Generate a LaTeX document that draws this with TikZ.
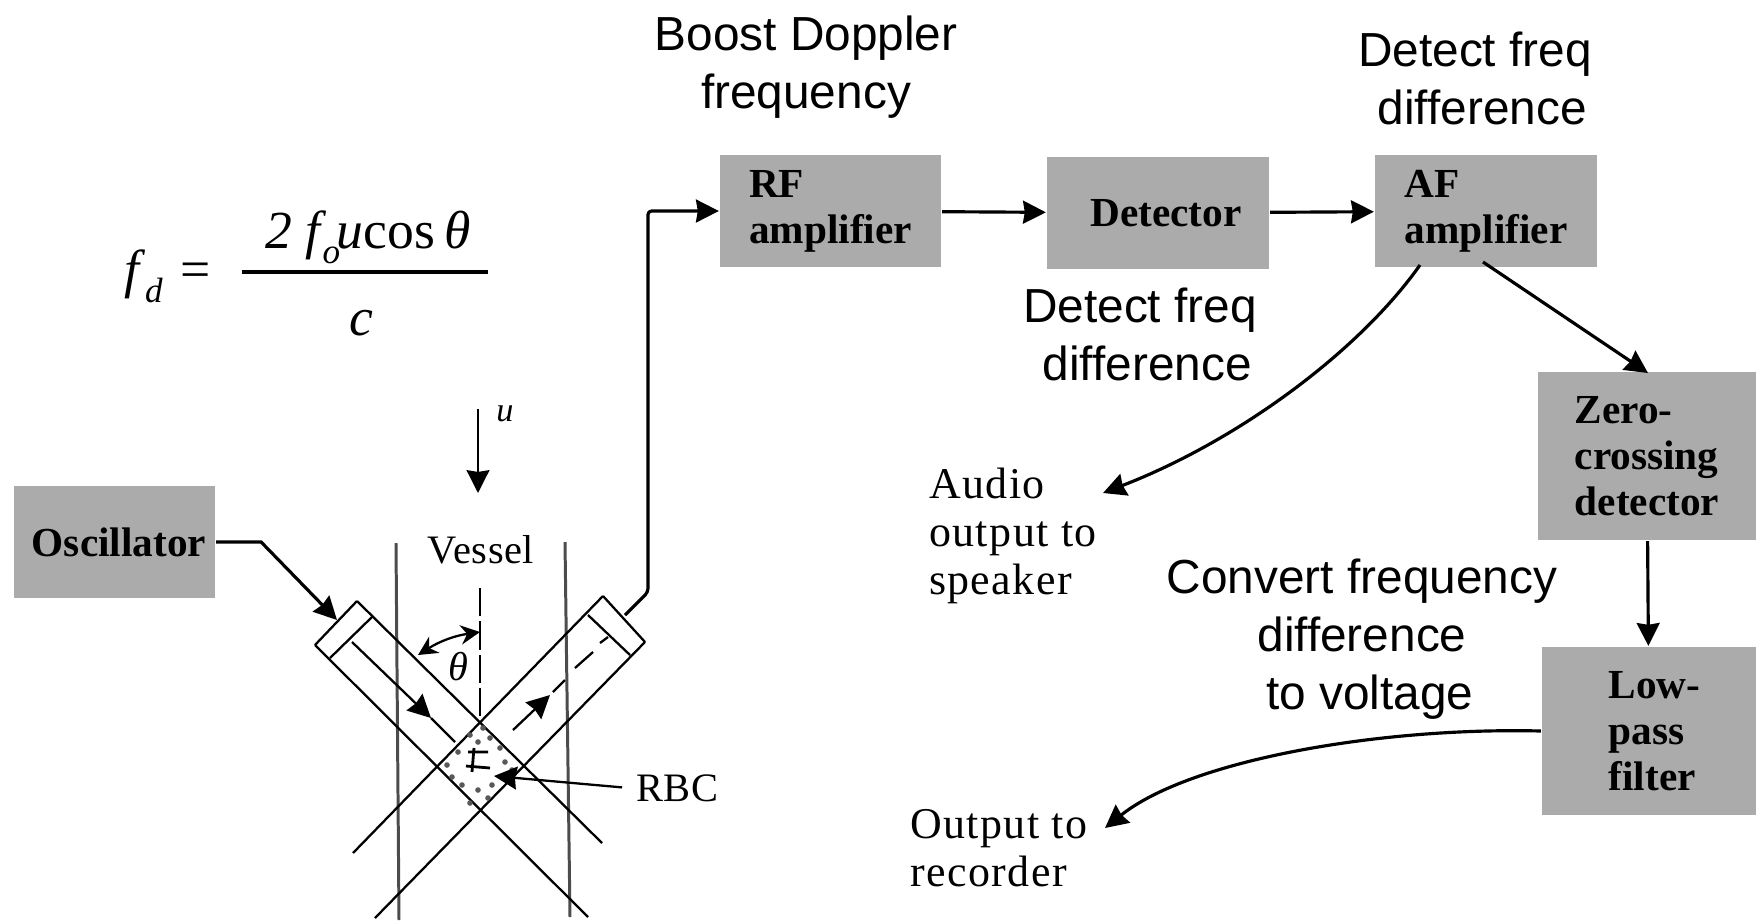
\documentclass[tikz,border=0pt]{standalone}
\usepackage{fontspec}
\setmainfont{Liberation Serif}
\setsansfont{Liberation Sans}
\usetikzlibrary{arrows.meta, positioning, calc}
\definecolor{cbox}{gray}{0.67}
\definecolor{cwall}{gray}{0.3}
\newcommand{\lowsub}[1]{\raisebox{-0.28em}{\fontsize{20}{20}\selectfont\textit{#1}}}
\tikzset{
  every picture/.style={line width=1.3pt},
  box/.style 2 args={fill=cbox, minimum width=#1, minimum height=#2, inner sep=0pt, align=left,
    font=\fontsize{23.5}{26.2}\selectfont\bfseries},
  arrow/.style={-{Stealth[length=13pt, width=13pt, inset=1pt]}, line width=1.8pt},
  note/.style={font=\fontsize{27.2}{33}\selectfont\sffamily, align=center},
  plate/.style={font=\fontsize{25}{27.3}\selectfont\addfontfeature{LetterSpace=3.4}, align=left},
  small/.style={font=\fontsize{23}{25}\selectfont\addfontfeature{LetterSpace=1.5}},
  eqn/.style={font=\fontsize{30.5}{32}\selectfont, inner sep=0pt},
}

\begin{document}
\begin{tikzpicture}[x=0.02cm, y=-0.02cm]
  \useasboundingbox (0,0) rectangle (1756,921);
  % blocks
  \node[box={4.02cm}{2.24cm}] (osc) at (114.5,542) {\hspace*{0.18cm}Oscillator};
  \node[box={4.42cm}{2.24cm}] (rf) at (830.5,211) {RF\\amplifier};
  \node[box={4.44cm}{2.24cm}] (det) at (1158,213) {\hspace*{0.32cm}Detector};
  \node[box={4.44cm}{2.26cm}] (af) at (1486,211) {AF\\amplifier};
  \node[box={4.36cm}{3.36cm}] (zero) at (1647,456) {Zero-\\crossing\\detector};
  \node[box={4.28cm}{3.36cm}] (low) at (1649,731) {\hspace*{0.22cm}Low-\\\hspace*{0.22cm}pass\\\hspace*{0.22cm}filter};
  % added captions
  \node[note] (boost) at (806,67) {Boost Doppler\\frequency};
  \node[note] (freqa) at (1475,78) {Detect freq\\\hspace*{0.29cm}difference};
  \node[note] (freqb) at (1140,334) {Detect freq\\\hspace*{0.29cm}difference};
  \node[note] (conv) at (1362,639) {Convert frequency\\difference\\\hspace*{0.31cm}to voltage};
  \node[plate, anchor=west] (audio) at (922,536) {Audio\\output to\\speaker};
  \node[plate, anchor=west] (rec) at (903,848) {Output to\\recorder};
  % formula
  \node[eqn, anchor=base west] (fd) at (123,287) {\textit{f}\lowsub{d}};
  \node[eqn, anchor=base west] (eq) at (179,287) {=};
  \node[eqn, anchor=base] (num) at (368,248) {\textit{2 f}\kern-0.08em\lowsub{o}\kern-0.06em\textit{u}cos\,\textit{θ}};
  \node[eqn, anchor=base] (den) at (361,335) {\textit{c}};
  \draw[line width=2.7pt] (242,272) coordinate (bara) -- (488,272) coordinate (barb);
  % vessel
  \draw[cwall, line width=1.7pt] (396,543) -- (399,920);
  \draw[cwall, line width=1.7pt] (565,542) -- (570,917);
  \draw[dash pattern=on 16pt off 3pt, line width=1.5pt] (480,588) -- (480,720);
  \node[small] (vessel) at (481,550) {Vessel};
  % probes and beams
  \coordinate (la) at (357,601); \coordinate (lb) at (315,645);
  \coordinate (ra) at (603,596); \coordinate (rb) at (645,642);
  \draw (la) -- (lb);
  \draw (372,617) -- (330,658);
  \draw (la) -- (602,843);
  \draw (lb) -- (588,917);
  \draw (ra) -- (rb);
  \draw (588,615) -- (630,655);
  \draw (ra) -- (353,853);
  \draw (rb) -- (375,918);
  \draw[arrow, line width=1.3pt] (352,642) -- (431,718);
  \draw (431,718) -- (455,742);
  \draw[arrow, line width=1.3pt] (513,730) -- (550,695);
  \draw (553,692) -- (565,680);
  \draw (575,668) -- (593,652);
  \draw (600,643) -- (608,637);
  % red cells
  \foreach \x/\y in {470/735, 478/742, 490/738, 500/748, 458/752, 447/765, 452/777, 462/785, 478/790, 488/798, 470/803, 492/785, 505/762, 512/770, 483/728}
    \fill[black!65] (\x,\y) circle (1.6pt);
  \draw[line width=1.6pt] (468,752) -- (488,752) (466,766) -- (490,768) (474,748) -- (472,772);
  % velocity and angle
  \coordinate (ua) at (478,409); \coordinate (ub) at (478,493);
  \draw[arrow, line width=1.3pt] (ua) -- (ub);
  \node[font=\fontsize{19.5}{20}\selectfont\itshape] (u) at (505,414) {u};
  \coordinate (tha) at (418,655); \coordinate (thb) at (480,632);
  \draw[{Stealth[length=11pt, width=11pt]}-{Stealth[length=11pt, width=11pt]}, line width=1.3pt] (tha) to[bend left=12] (thb);
  \node[font=\fontsize{23}{24}\selectfont\itshape] (theta) at (458,667) {θ};
  % RBC label
  \node[small, anchor=west] (rbc) at (629,788) {RBC};
  \coordinate (rbcend) at (494,776);
  \draw[arrow, line width=1.3pt, shorten <=0.14cm] (rbc.west) -- (rbcend);
  % connectors
  \coordinate (lin) at (337,620); \coordinate (rout) at (625,615);
  \draw[arrow] (osc.east) -- ++(45,0) -- (lin);
  \draw[arrow, rounded corners=2pt] (rout) -- ++(23,-23) |- (rf.west);
  \draw[arrow] (rf) -- (det);
  \draw[arrow] (det) -- (af);
  \coordinate (afa) at (1420,265); \coordinate (afb) at (1483,262);
  \coordinate (audend) at (1103,493); \coordinate (zeroin) at (1648,373); \coordinate (recend) at (1105,828);
  \draw[arrow] (afa) .. controls (1360,350) and (1240,440) .. (audend);
  \draw[arrow] (afb) -- (zeroin);
  \draw[arrow] (zero) -- (low);
  \draw[arrow] (low.west) .. controls (1380,727) and (1190,760) .. (recend);
\end{tikzpicture}
\end{document}
